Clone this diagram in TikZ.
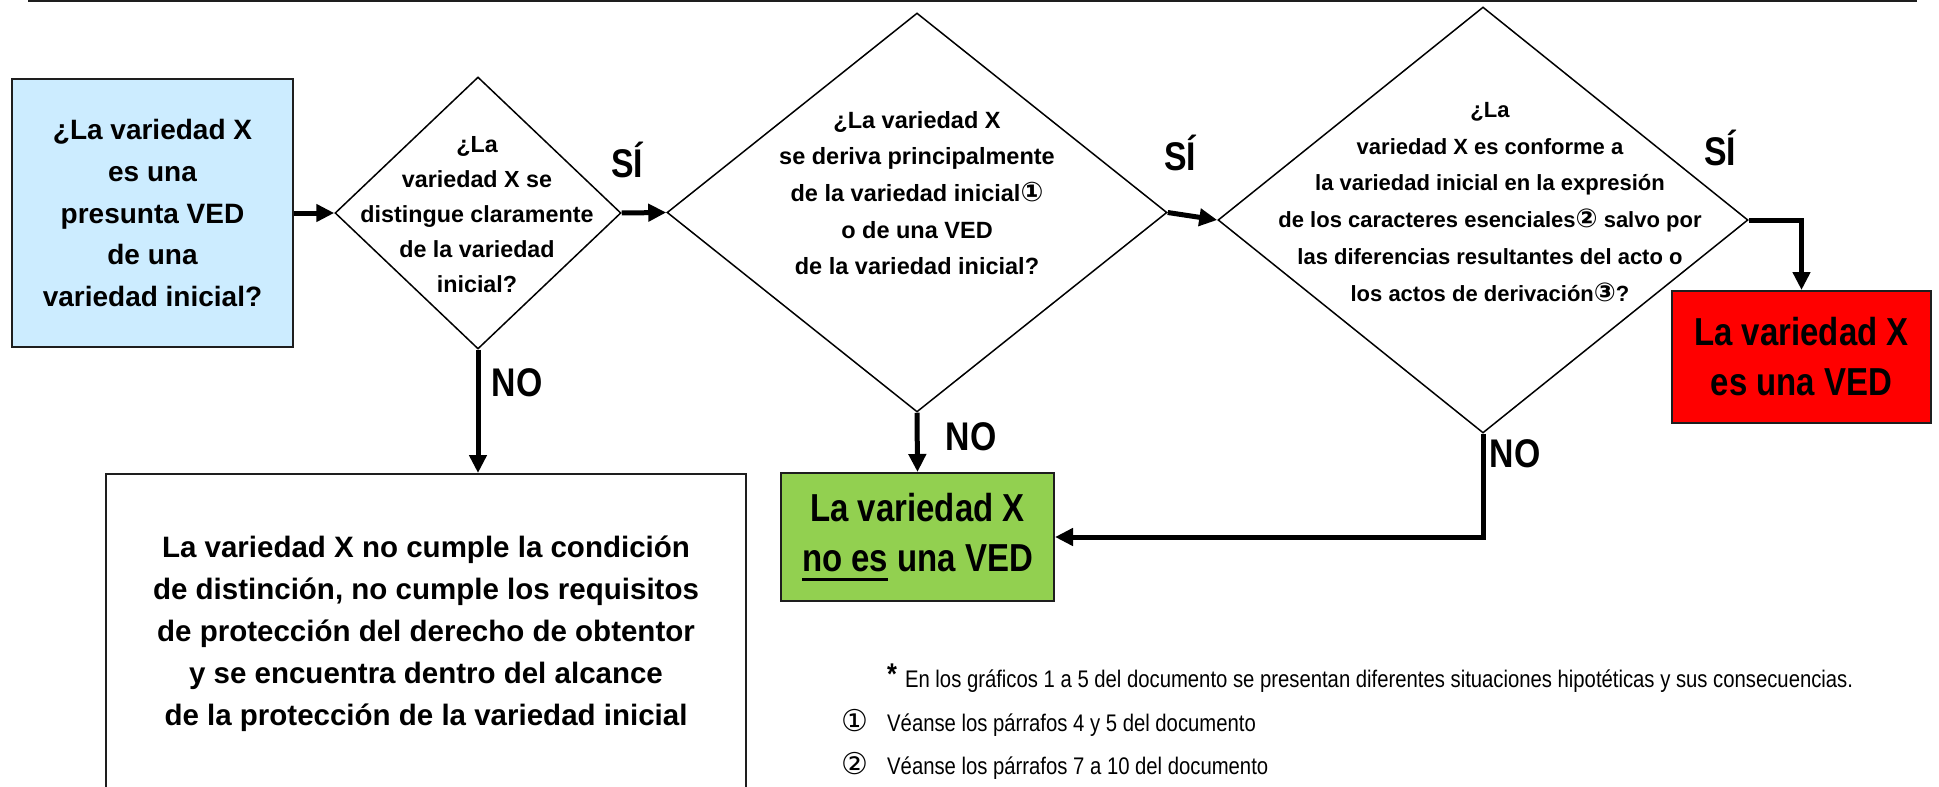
\documentclass[tikz,border=0pt]{standalone}
\usepackage{fontspec}
\setmainfont{Liberation Sans}
\newfontfamily\narrowfont[FakeStretch=0.845]{Liberation Sans}
\newfontfamily\symfont{DejaVu Sans}
\usetikzlibrary{shapes.geometric,arrows.meta}
\definecolor{boxblue}{RGB}{204,236,255}
\definecolor{boxgreen}{RGB}{146,208,80}
\definecolor{boxred}{RGB}{255,0,0}
\definecolor{edgegray}{RGB}{30,30,30}
\newcommand\myunderline[1]{\setbox0\hbox{#1}\rlap{\rule[-9pt]{\wd0}{3pt}}\box0\relax}
\newcommand\circnum[2]{{\fontsize{#1}{#1}\selectfont\symfont #2}}
\begin{document}
\begin{tikzpicture}[x=1pt,y=-1pt,
  dia/.style={diamond, draw=black, line width=1.5pt, inner sep=0pt, fill=white},
  box/.style={draw=edgegray, line width=2pt, inner sep=0pt, align=center},
  conn/.style={line width=5pt, -{Triangle[length=18pt,width=17pt]}, black},
  diatext/.style={align=center, inner sep=0pt},
  lbl/.style={inner sep=0pt, font=\fontsize{40pt}{44pt}\selectfont\narrowfont\bfseries},
  foot/.style={inner sep=0pt, anchor=base west, font=\fontsize{24pt}{28pt}\selectfont\narrowfont}
]
\useasboundingbox (0,0) rectangle (1939,787);
\clip (0,0) rectangle (1939,787);

% top rule
\draw[line width=2pt, edgegray] (28,1) -- (1917,1);

% boxes
\node[box, fill=boxblue, minimum width=281pt, minimum height=268pt,
      font=\fontsize{28pt}{41.6pt}\selectfont\bfseries] (q0) at (152.5,213)
  {¿La variedad X\\es una\\presunta VED\\de una\\variedad inicial?};

\node[dia, minimum width=286pt, minimum height=272pt] (d1) at (478,213) {};
\node[diatext, font=\fontsize{23.3pt}{35pt}\selectfont\bfseries] (t1) at (477,215)
  {¿La\\variedad X se\\distingue claramente\\de la variedad\\inicial?};

\node[dia, minimum width=500pt, minimum height=399pt] (d2) at (917,212.5) {};
\node[diatext, font=\fontsize{23.5pt}{36.6pt}\selectfont\bfseries] (t2) at (917,193)
  {¿La variedad X\\se deriva principalmente\\de la variedad inicial\circnum{27pt}{①}\\o de una VED\\de la variedad inicial?};

\node[dia, minimum width=530pt, minimum height=426pt] (d3) at (1483,220) {};
\node[diatext, font=\fontsize{22pt}{36.8pt}\selectfont\bfseries] (t3) at (1490,202)
  {¿La\\variedad X es conforme a\\la variedad inicial en la expresión\\de los caracteres esenciales\circnum{26pt}{②} salvo por\\las diferencias resultantes del acto o\\los actos de derivación\circnum{26pt}{③}?};

\node[box, fill=boxred, minimum width=259pt, minimum height=132pt,
      font=\fontsize{39pt}{50pt}\selectfont\narrowfont\bfseries] (red) at (1801.5,357)
  {La variedad X\\es una VED};

\node[box, fill=boxgreen, minimum width=273pt, minimum height=128pt,
      font=\fontsize{39pt}{50pt}\selectfont\narrowfont\bfseries] (green) at (917.5,537)
  {La variedad X\\\myunderline{no es} una VED};

\node[box, fill=white, minimum width=640pt, minimum height=320pt,
      font=\fontsize{29.5pt}{42pt}\selectfont\bfseries] (white) at (426,634)
  {La variedad X no cumple la condición\\de distinción, no cumple los requisitos\\de protección del derecho de obtentor\\y se encuentra dentro del alcance\\de la protección de la variedad inicial};

% labels
\node[lbl] (si1) at (627,160) {SÍ};
\node[lbl] (si2) at (1180,153) {SÍ};
\node[lbl] (si3) at (1720,148) {SÍ};
\node[lbl] (no1) at (517,383) {NO};
\node[lbl] (no2) at (971,437) {NO};
\node[lbl] (no3) at (1515,454) {NO};

% connectors
\draw[conn] (q0.east) -- (d1.west);
\draw[conn] (d1.east) -- (d2.west);
\draw[conn] (d2.east) -- (d3.west);
\draw[conn] (d3.east) -| (red.north);
\draw[conn] (d1.south) -- (d1.south |- white.north);
\draw[conn] (d2.south) -- (green.north);
\draw[conn] (d3.south) |- (green.east);

% footnotes
\node[foot] (f0) at (887,687) {{\fontsize{30pt}{30pt}\selectfont\bfseries\raisebox{3pt}{*}}\hspace{8pt}En los gráficos 1 a 5 del documento se presentan diferentes situaciones hipotéticas y sus consecuencias.};
\node[foot] (f1) at (841,731) {\makebox[46pt][l]{\circnum{30pt}{①}}Véanse los párrafos 4 y 5 del documento};
\node[foot] (f2) at (841,774) {\makebox[46pt][l]{\circnum{30pt}{②}}Véanse los párrafos 7 a 10 del documento};
\end{tikzpicture}
\end{document}
